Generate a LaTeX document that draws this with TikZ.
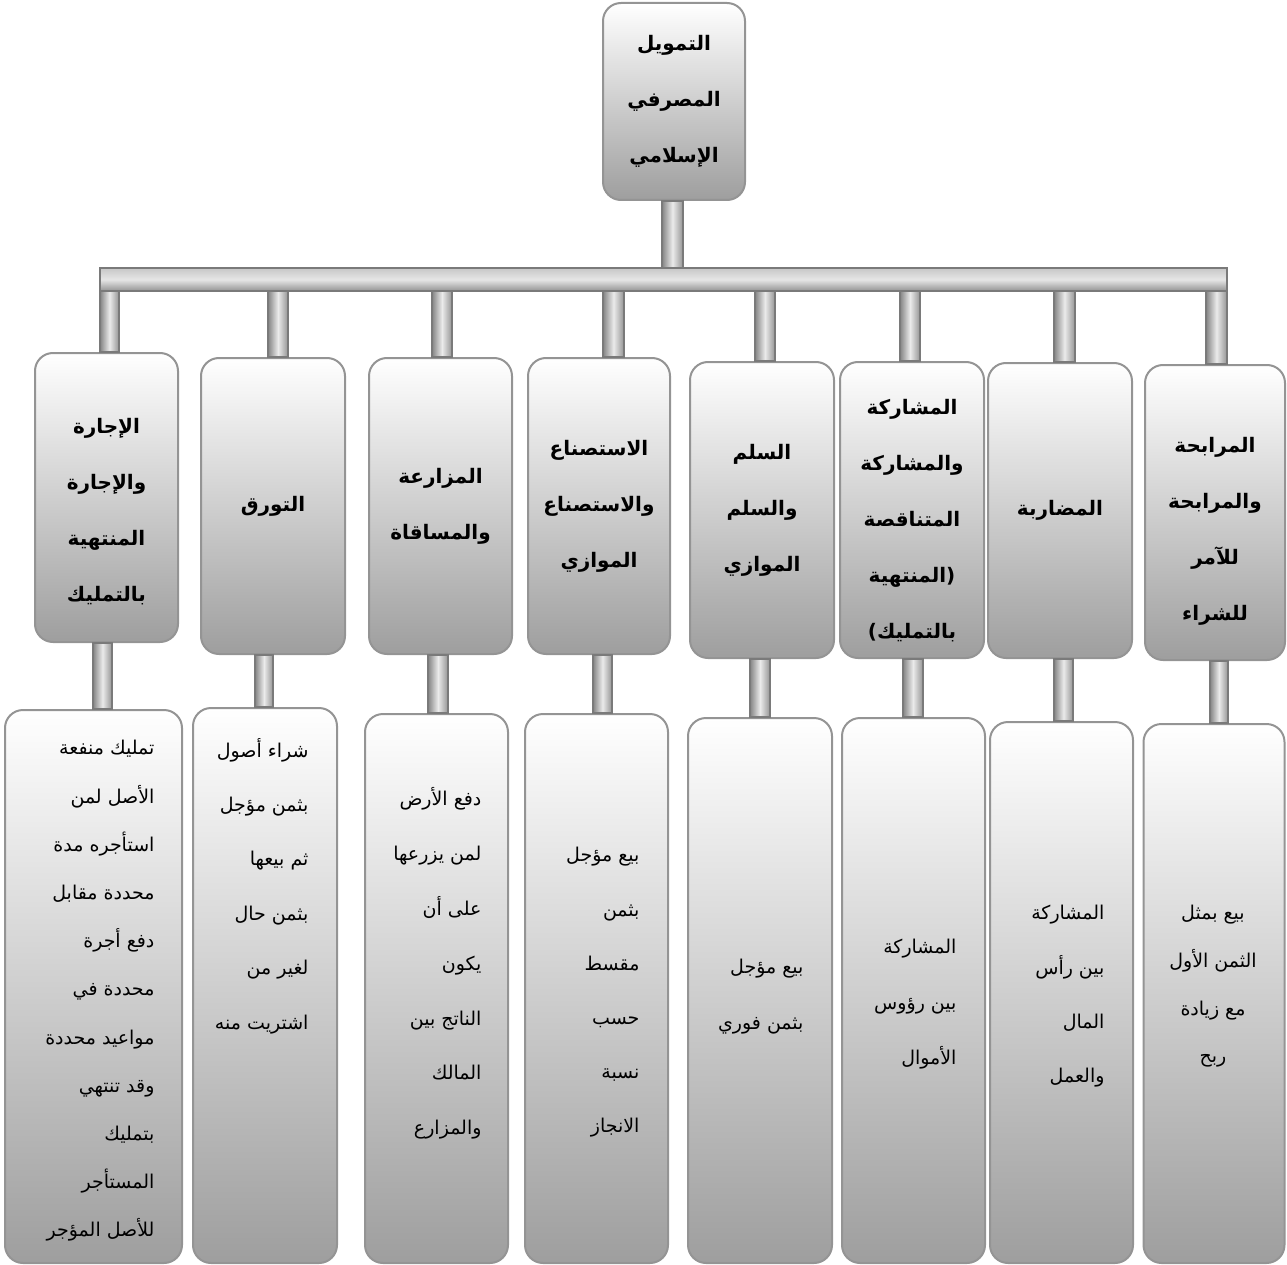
\documentclass[tikz,border=0pt]{standalone}
\usepackage{fontspec}
\newfontfamily\arabicfont[Script=Arabic]{DejaVu Sans}
\TeXXeTstate=1
\newcommand{\arline}[1]{\beginR #1\endR}

\begin{document}
\begin{tikzpicture}[x=1pt, y=-1pt,
        box/.style={rectangle, rounded corners=18pt, draw=black!42, line width=2pt,
            top color=white, bottom color=black!38, inner sep=0pt},
        headbox/.style={box, align=center, font=\arabicfont\bfseries\fontsize{20}{56}\selectfont},
        note/.style={font=\arabicfont\fontsize{19}{#1}\selectfont, align=right, anchor=east},
        vbar/.style={draw=black!52, line width=1.2pt, left color=black!48, right color=black!42, middle color=black!8},
        hbar/.style={draw=black!52, line width=1.2pt, top color=black!22, bottom color=black!42, middle color=black!10}]

        \useasboundingbox (0,0) rectangle (1287,1265);

        % top
        \node[headbox, minimum width=142pt, minimum height=197pt] (bank) at (674,101.5)
            {\arline{التمويل}\\ \arline{المصرفي}\\ \arline{الإسلامي}};

        % second row
        \node[headbox, minimum width=143pt, minimum height=289pt, text height=211pt] (ijara) at (106.5,497.5)
            {\arline{الإجارة}\\ \arline{والإجارة}\\ \arline{المنتهية}\\ \arline{بالتمليك}};
        \node[headbox, minimum width=144pt, minimum height=296pt] (tawarruq) at (273,506)
            {\arline{التورق}};
        \node[headbox, minimum width=143pt, minimum height=296pt] (muzaraa) at (440.5,506)
            {\arline{المزارعة}\\ \arline{والمساقاة}};
        \node[headbox, minimum width=142pt, minimum height=296pt] (istisna) at (599,506)
            {\arline{الاستصناع}\\ \arline{والاستصناع}\\ \arline{الموازي}};
        \node[headbox, minimum width=144pt, minimum height=296pt] (salam) at (762,510)
            {\arline{السلم}\\ \arline{والسلم}\\ \arline{الموازي}};
        \node[headbox, minimum width=144pt, minimum height=296pt, text height=260pt] (musharaka) at (912,510)
            {\arline{المشاركة}\\ \arline{والمشاركة}\\ \arline{المتناقصة}\\ \arline{المنتهية}(\\ )\arline{بالتمليك}};
        \node[headbox, minimum width=144pt, minimum height=295pt] (mudaraba) at (1060,510.5)
            {\arline{المضاربة}};
        \node[headbox, minimum width=140pt, minimum height=295pt, text height=220pt] (murabaha) at (1215,512.5)
            {\arline{المرابحة}\\ \arline{والمرابحة}\\ \arline{للآمر}\\ \arline{للشراء}};

        % third row
        \node[box, minimum width=177pt, minimum height=553pt] (ijara-d) at (93.5,986.5) {};
        \node[box, minimum width=144pt, minimum height=555pt] (tawarruq-d) at (265,985.5) {};
        \node[box, minimum width=143pt, minimum height=549pt] (muzaraa-d) at (436.5,988.5) {};
        \node[box, minimum width=143pt, minimum height=549pt] (istisna-d) at (596.5,988.5) {};
        \node[box, minimum width=144pt, minimum height=545pt] (salam-d) at (760,990.5) {};
        \node[box, minimum width=143pt, minimum height=545pt] (musharaka-d) at (913.5,990.5) {};
        \node[box, minimum width=143pt, minimum height=541pt] (mudaraba-d) at (1061.5,992.5) {};
        \node[box, minimum width=141pt, minimum height=539pt] (murabaha-d) at (1214,993.5) {};

        \node[note=48.2pt] (ijara-t) at (158,991)
            {\arline{تمليك منفعة}\\ \arline{الأصل لمن}\\ \arline{استأجره مدة}\\ \arline{محددة مقابل}\\
             \arline{دفع أجرة}\\ \arline{محددة في}\\ \arline{مواعيد محددة}\\ \arline{وقد تنتهي}\\
             \arline{بتمليك}\\ \arline{المستأجر}\\ \arline{للأصل المؤجر}};
        \node[note=54.4pt] (tawarruq-t) at (312,886)
            {\arline{شراء أصول}\\ \arline{بثمن مؤجل}\\ \arline{ثم بيعها}\\ \arline{بثمن حال}\\
             \arline{لغير من}\\ \arline{اشتريت منه}};
        \node[note=54.8pt] (muzaraa-t) at (485,963.5)
            {\arline{دفع الأرض}\\ \arline{لمن يزرعها}\\ \arline{على أن}\\ \arline{يكون}\\
             \arline{الناتج بين}\\ \arline{المالك}\\ \arline{والمزارع}};
        \node[note=54.2pt] (istisna-t) at (643,992.5)
            {\arline{بيع مؤجل}\\ \arline{بثمن}\\ \arline{مقسط}\\ \arline{حسب}\\ \arline{نسبة}\\ \arline{الانجاز}};
        \node[note=56pt] (salam-t) at (807,997)
            {\arline{بيع مؤجل}\\ \arline{بثمن فوري}};
        \node[note=55.5pt] (musharaka-t) at (960,1004.5)
            {\arline{المشاركة}\\ \arline{بين رؤوس}\\ \arline{الأموال}};
        \node[note=54.3pt] (mudaraba-t) at (1108,996.5)
            {\arline{المشاركة}\\ \arline{بين رأس}\\ \arline{المال}\\ \arline{والعمل}};
        \node[note=47.7pt, align=center, anchor=center] (murabaha-t) at (1213,986.5)
            {\arline{بيع بمثل}\\ \arline{الثمن الأول}\\ \arline{مع زيادة}\\ \arline{ربح}};

        % bars
        \path[vbar] (662,0 |- bank.south) rectangle (683,269);
        \path[hbar] (100,268) rectangle (1227,291);
        \foreach \xa/\xb/\n in {100/119/ijara, 268/288/tawarruq, 432/452/muzaraa, 603/624/istisna,
                755/775/salam, 900/920/musharaka, 1054/1075/mudaraba, 1206/1227/murabaha}
            \path[vbar] (\xa,291) rectangle (\xb,0 |- \n.north);
        \foreach \xa/\xb/\n in {93/112/ijara, 255/273/tawarruq, 428/448/muzaraa, 593/612/istisna,
                750/770/salam, 903/923/musharaka, 1054/1073/mudaraba, 1210/1228/murabaha}
            \path[vbar] (\xa,0 |- \n.south) rectangle (\xb,0 |- \n-d.north);
    \end{tikzpicture}
\end{document}
